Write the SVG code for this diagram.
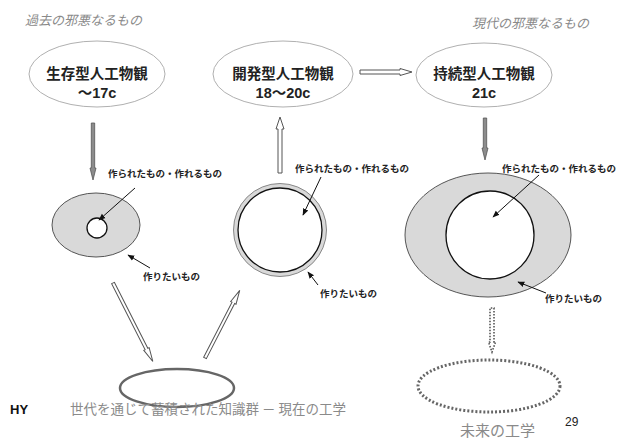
<svg xmlns="http://www.w3.org/2000/svg" width="621" height="439" viewBox="0 0 621 439">
<style>
.node{fill:#fff;stroke:#b0b0b0;stroke-width:1}
.nt{font-family:"Liberation Sans","Noto Sans CJK JP",sans-serif;font-weight:bold;font-size:14.5px;fill:#222;text-anchor:middle}
.hd{font-family:"Noto Sans CJK JP",sans-serif;font-style:italic;font-size:13px;fill:#8a8a8a}
.lb{font-family:"Noto Sans CJK JP",sans-serif;font-weight:bold;font-size:9.5px;fill:#222}
.ft{font-family:"Noto Sans CJK JP",sans-serif;font-size:13.5px;fill:#8a8a8a}
.gray{fill:#d9d9d9;stroke:#555;stroke-width:1}
.inner{fill:#fff;stroke:#111;stroke-width:1.3}
.ptr{stroke:#111;stroke-width:1;fill:none;marker-end:url(#ah)}
.hollow{fill:#fff;stroke:#555;stroke-width:1}
.solid{fill:#8c8c8c;stroke:#555;stroke-width:0.8}
</style>
<defs>
<marker id="ah" viewBox="0 0 10 10" refX="9" refY="5" markerWidth="7" markerHeight="7" orient="auto">
<path d="M0,1 L10,5 L0,9 Z" fill="#111"/>
</marker>
</defs>
<rect width="621" height="439" fill="#fff"/>
<text class="hd" x="25" y="25">過去の邪悪なるもの</text>
<text class="hd" x="472" y="28">現代の邪悪なるもの</text>

<g id="node-survival">
<ellipse class="node" cx="97" cy="74" rx="68" ry="33"/>
<text class="nt" x="97" y="79">生存型人工物観</text>
<text class="nt" x="97" y="98">～17c</text>
</g>
<g id="node-development">
<ellipse class="node" cx="283" cy="74" rx="70" ry="33"/>
<text class="nt" x="283" y="79">開発型人工物観</text>
<text class="nt" x="283" y="98">18～20c</text>
</g>
<g id="node-sustainable">
<ellipse class="node" cx="484" cy="75" rx="68" ry="32"/>
<text class="nt" x="484" y="79">持続型人工物観</text>
<text class="nt" x="484" y="98">21c</text>
</g>

<g id="set-left">
<ellipse class="gray" cx="96" cy="225" rx="44" ry="32"/>
<circle class="inner" cx="97" cy="228" r="10"/>
<text class="lb" x="108" y="177">作られたもの・作れるもの</text>
<text class="lb" x="143" y="280">作りたいもの</text>
</g>
<g id="set-middle">
<circle cx="280" cy="230" r="46.5" fill="#d9d9d9" stroke="#888" stroke-width="1"/>
<circle class="inner" cx="280" cy="230" r="42"/>
<text class="lb" x="295" y="172">作られたもの・作れるもの</text>
<text class="lb" x="320" y="297">作りたいもの</text>
</g>
<g id="set-right">
<ellipse class="gray" cx="488" cy="235" rx="83" ry="62"/>
<circle class="inner" cx="490" cy="235" r="44"/>
<text class="lb" x="502" y="172">作られたもの・作れるもの</text>
<text class="lb" x="545" y="302">作りたいもの</text>
</g>
<g id="present-eng">
<ellipse cx="177" cy="388" rx="57" ry="19" fill="none" stroke="#666" stroke-width="2.5"/>
</g>
<g id="future-eng">
<ellipse cx="489" cy="386" rx="71" ry="26" fill="none" stroke="#666" stroke-width="3" stroke-dasharray="2 2"/>
</g>

<g id="connectors">
<polygon class="solid" transform="translate(93,123) rotate(90)" points="0,-1.7 45,-1.7 45,-3 57,0 45,3 45,1.7 0,1.7"/>
<polygon class="hollow" transform="translate(280,173) rotate(-90)" points="0,-2 44,-2 44,-4 56,0 44,4 44,2 0,2"/>
<polygon class="hollow" transform="translate(360,72) rotate(0)" points="0,-2 40,-2 40,-3.5 52,0 40,3.5 40,2 0,2"/>
<polygon class="solid" transform="translate(485,118) rotate(90)" points="0,-1.7 30,-1.7 30,-3 42,0 30,3 30,1.7 0,1.7"/>
<polygon class="hollow" transform="translate(113,283) rotate(63.1)" points="0,-1.5 74,-1.5 74,-3 88,0 74,3 74,1.5 0,1.5"/>
<polygon class="hollow" transform="translate(205,358) rotate(-62.8)" points="0,-1.5 62,-1.5 62,-3 76,0 62,3 62,1.5 0,1.5"/>
<polygon transform="translate(492,308) rotate(90)" points="0,-2 34,-2 34,-3.5 44,0 34,3.5 34,2 0,2" fill="#fff" stroke="#555" stroke-width="1.6" stroke-dasharray="1.5 1.5"/>
<line class="ptr" x1="135" y1="188" x2="99" y2="220"/>
<line class="ptr" x1="150" y1="268" x2="128" y2="255"/>
<line class="ptr" x1="321" y1="177" x2="303" y2="215"/>
<line class="ptr" x1="318" y1="285" x2="308" y2="272"/>
<line class="ptr" x1="539" y1="175" x2="493" y2="217"/>
<line class="ptr" x1="546" y1="293" x2="518" y2="282"/>
</g>

<text x="10" y="414" font-family="Liberation Sans,sans-serif" font-weight="bold" font-size="13" fill="#111">HY</text>
<text class="ft" x="70" y="414">世代を通じて蓄積された知識群 － 現在の工学</text>
<text x="565" y="426" font-family="Liberation Sans,sans-serif" font-size="12" fill="#222">29</text>
<text x="460" y="436" font-family="Noto Sans CJK JP,sans-serif" font-size="15" fill="#8a8a8a">未来の工学</text>
</svg>
